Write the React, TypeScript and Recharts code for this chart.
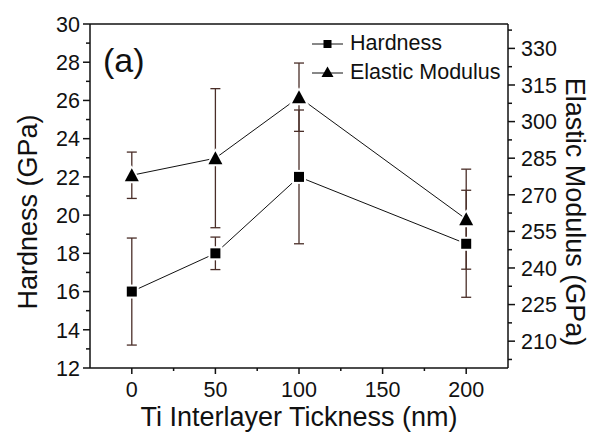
import { LineChart, Line, XAxis, YAxis, ErrorBar, Legend, ReferenceLine } from "recharts";

const thickness = [0, 50, 100, 200];
const hardness = [16, 18, 22, 18.5];
const hardnessErr = [2.8, 0.85, 3.5, 2.8];
const modulus = [278, 285, 310, 260];
const modulusErr = [9.5, 28.5, 14, 20.5];

const xTicks = [0, 25, 50, 75, 100, 125, 150, 175, 200];
const xMajor = [0, 50, 100, 150, 200];
const hardnessTicks = [12, 13, 14, 15, 16, 17, 18, 19, 20, 21, 22, 23, 24, 25, 26, 27, 28, 29, 30];
const hardnessMajor = [12, 14, 16, 18, 20, 22, 24, 26, 28, 30];
const modulusTicks = [202.5, 210, 217.5, 225, 232.5, 240, 247.5, 255, 262.5, 270, 277.5, 285, 292.5, 300, 307.5, 315, 322.5, 330, 337.5];
const modulusMajor = [210, 225, 240, 255, 270, 285, 300, 315, 330];

const rows = thickness.map((t, i) => ({
  thickness: t,
  hardness: hardness[i],
  hardnessErr: hardnessErr[i],
  modulus: modulus[i],
  modulusErr: modulusErr[i],
}));

const FONT = "Arial, 'Liberation Sans', sans-serif";
const INK = "#111";
const ERR = "#4a2e28";

function BottomTick({ x, y, payload }: any) {
  const major = xMajor.includes(payload.value);
  return (
    <g>
      <line x1={x} x2={x} y1={y} y2={y + (major ? 6 : 3)} stroke={INK} strokeWidth={1.5} />
      {major && (
        <text x={x} y={y + 29} textAnchor="middle" fontSize={21.5} fontFamily={FONT} fill={INK}>
          {payload.value}
        </text>
      )}
    </g>
  );
}

function LeftTick({ x, y, payload }: any) {
  const major = hardnessMajor.includes(payload.value);
  return (
    <g>
      <line x1={x} x2={x - (major ? 7 : 4)} y1={y} y2={y} stroke={INK} strokeWidth={1.5} />
      {major && (
        <text x={x - 10} y={y} dy="0.36em" textAnchor="end" fontSize={21.5} fontFamily={FONT} fill={INK}>
          {payload.value}
        </text>
      )}
    </g>
  );
}

function RightTick({ x, y, payload }: any) {
  const major = modulusMajor.includes(payload.value);
  return (
    <g>
      <line x1={x} x2={x + (major ? 7 : 4)} y1={y} y2={y} stroke={INK} strokeWidth={1.5} />
      {major && (
        <text x={x + 13} y={y} dy="0.36em" textAnchor="start" fontSize={21.5} fontFamily={FONT} fill={INK}>
          {payload.value}
        </text>
      )}
    </g>
  );
}

function SquareDot({ cx, cy }: any) {
  if (cx == null || cy == null) return null;
  return (
    <g>
      <rect x={cx - 7} y={cy - 7} width={14} height={14} fill="#fff" />
      <rect x={cx - 5} y={cy - 5} width={10} height={10} fill="#000" />
    </g>
  );
}

function TriangleDot({ cx, cy }: any) {
  if (cx == null || cy == null) return null;
  return (
    <g>
      <polygon points={`${cx},${cy - 10} ${cx + 10},${cy + 8} ${cx - 10},${cy + 8}`} fill="#fff" />
      <polygon points={`${cx},${cy - 7} ${cx + 7},${cy + 6} ${cx - 7},${cy + 6}`} fill="#000" />
    </g>
  );
}

function LegendBox() {
  const items = [
    { name: "Hardness", shape: "square" },
    { name: "Elastic Modulus", shape: "triangle" },
  ];
  return (
    <div style={{ fontFamily: FONT, fontSize: 21.5, color: INK }}>
      {items.map((it) => (
        <div key={it.name} style={{ display: "flex", alignItems: "center", height: 29, lineHeight: "29px" }}>
          <svg width={31} height={29} style={{ marginRight: 7 }}>
            <line x1={0} x2={31} y1={15} y2={15} stroke={INK} strokeWidth={1} />
            {it.shape === "square" ? (
              <rect x={11.5} y={11} width={8} height={8} fill="#000" />
            ) : (
              <polygon points="15.5,8.5 21.5,19 9.5,19" fill="#000" />
            )}
          </svg>
          <span>{it.name}</span>
        </div>
      ))}
    </div>
  );
}

export default function App() {
  return (
    <div style={{ position: "absolute", left: 0, top: 0, width: 596, height: 434, background: "#fff" }}>
      <LineChart width={596} height={434} data={rows} margin={{ top: 24, right: 0, bottom: 0, left: 0 }}>
        <XAxis
          dataKey="thickness"
          type="number"
          domain={[-25, 225]}
          ticks={xTicks}
          interval={0}
          tickSize={0}
          tickMargin={0}
          tickLine={false}
          tick={<BottomTick />}
          height={66}
          stroke={INK}
          strokeWidth={1.5}
          label={(p: any) => {
            const vb = p.viewBox;
            return (
              <text x={vb.x + vb.width / 2} y={vb.y + 58} textAnchor="middle" fontSize={27} fontFamily={FONT} fill={INK}>
                Ti Interlayer Tickness (nm)
              </text>
            );
          }}
        />
        <YAxis
          yAxisId="left"
          type="number"
          domain={[12, 30]}
          ticks={hardnessTicks}
          interval={0}
          tickSize={0}
          tickMargin={0}
          tickLine={false}
          tick={<LeftTick />}
          width={90}
          stroke={INK}
          strokeWidth={1.5}
          label={(p: any) => {
            const vb = p.viewBox;
            const cx = vb.x + 37;
            const cy = vb.y + vb.height / 2 + 16;
            return (
              <text x={cx} y={cy} transform={`rotate(-90 ${cx} ${cy})`} textAnchor="middle" fontSize={27} fontFamily={FONT} fill={INK}>
                Hardness (GPa)
              </text>
            );
          }}
        />
        <YAxis
          yAxisId="right"
          orientation="right"
          type="number"
          domain={[199, 340]}
          ticks={modulusTicks}
          interval={0}
          tickSize={0}
          tickMargin={0}
          tickLine={false}
          tick={<RightTick />}
          width={88}
          stroke={INK}
          strokeWidth={1.5}
          label={(p: any) => {
            const vb = p.viewBox;
            const cx = vb.x + 58;
            const cy = vb.y + vb.height / 2 + 16;
            return (
              <text x={cx} y={cy} transform={`rotate(90 ${cx} ${cy})`} textAnchor="middle" fontSize={27} fontFamily={FONT} fill={INK}>
                Elastic Modulus (GPa)
              </text>
            );
          }}
        />
        <ReferenceLine yAxisId="left" y={30} stroke={INK} strokeWidth={1.5} />
        <Legend
          layout="vertical"
          align="center"
          verticalAlign="middle"
          wrapperStyle={{ left: 312, top: 29, width: "auto" }}
          content={() => <LegendBox />}
        />
        <Line
          yAxisId="left"
          dataKey="hardness"
          name="Hardness"
          type="linear"
          stroke={INK}
          strokeWidth={1}
          dot={<SquareDot />}
          activeDot={false}
          isAnimationActive={false}
        >
          <ErrorBar dataKey="hardnessErr" direction="y" width={5} stroke={ERR} strokeWidth={1.3} />
        </Line>
        <Line
          yAxisId="right"
          dataKey="modulus"
          name="Elastic Modulus"
          type="linear"
          stroke={INK}
          strokeWidth={1}
          dot={<TriangleDot />}
          activeDot={false}
          isAnimationActive={false}
        >
          <ErrorBar dataKey="modulusErr" direction="y" width={5} stroke={ERR} strokeWidth={1.3} />
        </Line>
      </LineChart>
      <div
        style={{
          position: "absolute",
          left: 103,
          top: 43,
          fontFamily: FONT,
          fontSize: 34,
          lineHeight: 1,
          color: INK,
        }}
      >
        (a)
      </div>
    </div>
  );
}
